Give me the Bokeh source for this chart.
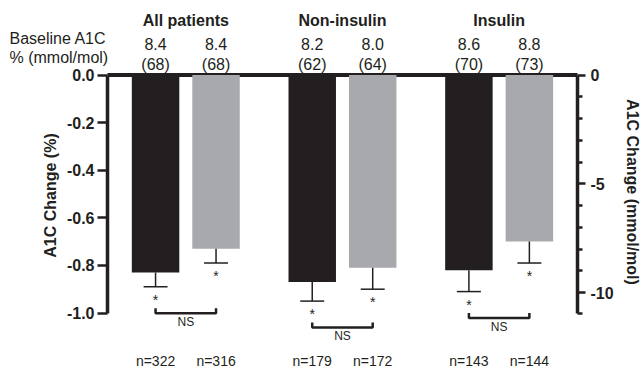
import numpy as np
from bokeh.plotting import figure
from bokeh.models import Range1d, LinearAxis, FixedTicker, PrintfTickFormatter
from bokeh.core.properties import value
from bokeh.embed import file_html
from bokeh.resources import INLINE

# ---------------- data ----------------
groups = ["All patients", "Non-insulin", "Insulin"]
change_a = [-0.83, -0.87, -0.82]      # black bars (A1C change, %)
se_a = [0.06, 0.08, 0.09]
change_b = [-0.73, -0.81, -0.70]      # gray bars (A1C change, %)
se_b = [0.06, 0.09, 0.09]
baseline_pct_a = [8.4, 8.2, 8.6]
baseline_pct_b = [8.4, 8.0, 8.8]
baseline_mmol_a = [68, 62, 70]
baseline_mmol_b = [68, 64, 73]
n_a = [322, 179, 143]
n_b = [316, 172, 144]
left_ticks = [0.0, -0.2, -0.4, -0.6, -0.8, -1.0]
right_major_ticks = [0, -5, -10]
right_minor_ticks = [-1, -2, -3, -4, -6, -7, -8, -9]
MMOL_PER_PCT = 10.93

# ---------------- layout (pixels) ----------------
W, H = 641, 369
AXIS_L_PX, AXIS_R_PX = 107, 577
Y0_PX, PX_PER_PCT = 74.5, 238.0
GROUP0_PX, PX_PER_GROUP = 185.3, 156.67
OFFSET, BAR_W, CAP_W = 0.193, 0.303, 0.153
INK = "#231f20"
GRAY = "#a7a9ac"
FONT = "Liberation Sans"

def px_x(px):
    return (px - GROUP0_PX) / PX_PER_GROUP

def px_y(py):
    return (Y0_PX - py) / PX_PER_PCT

def dpx(d):
    return d / PX_PER_PCT

AXIS_L_X, AXIS_R_X = px_x(AXIS_L_PX), px_x(AXIS_R_PX)
y_end, y_start = px_y(0), px_y(H)

p = figure(width=W, height=H, output_backend="svg", toolbar_location=None,
           x_range=Range1d(px_x(0), px_x(W)), y_range=Range1d(y_start, y_end),
           x_axis_location=None, y_axis_location=None,
           min_border_left=0, min_border_right=0,
           min_border_top=0, min_border_bottom=0)
p.outline_line_color = None
p.grid.visible = False
p.extra_y_ranges = {"mmol": Range1d(y_start * MMOL_PER_PCT, y_end * MMOL_PER_PCT)}

# axes
left = LinearAxis(ticker=FixedTicker(ticks=left_ticks),
                  formatter=PrintfTickFormatter(format="%.1f"),
                  bounds=(min(left_ticks), 0), fixed_location=AXIS_L_X)
right = LinearAxis(y_range_name="mmol",
                   ticker=FixedTicker(ticks=right_major_ticks,
                                      minor_ticks=right_minor_ticks + [-MMOL_PER_PCT]),
                   formatter=PrintfTickFormatter(format="%d"),
                   bounds=(-MMOL_PER_PCT - 0.01, 0), fixed_location=AXIS_R_X)
for ax in (left, right):
    ax.axis_line_width = 3.5
    ax.axis_line_color = INK
    ax.major_tick_line_color = INK
    ax.major_tick_line_width = 2.5
    ax.major_tick_in = 0
    ax.minor_tick_in = 0
    ax.major_label_text_font = FONT
    ax.major_label_text_font_style = "bold"
    ax.major_label_text_font_size = "16px"
    ax.major_label_text_color = INK
left.major_tick_out = 10
left.minor_tick_line_color = None
left.major_label_standoff = 3
right.major_tick_out = 8
right.minor_tick_out = 5
right.minor_tick_line_color = INK
right.minor_tick_line_width = 2.5
right.major_label_standoff = 5
p.add_layout(left, "left")
p.add_layout(right, "right")

# zero line between the two axes
p.segment(x0=[AXIS_L_X], y0=[0], x1=[AXIS_R_X], y1=[0], line_color=INK, line_width=4)

gx = np.arange(len(groups))
xa = gx - OFFSET
xb = gx + OFFSET
a = np.array(change_a)
b = np.array(change_b)
cap_a = a - np.array(se_a)
cap_b = b - np.array(se_b)

p.vbar(x=xa, top=0, bottom=a, width=BAR_W, fill_color=INK, line_color=None)
p.vbar(x=xb, top=0, bottom=b, width=BAR_W, fill_color=GRAY, line_color=None)

def txt(x, y, text, size, bold=False, align="center", angle=0.0):
    p.text(x=x, y=y, text=text, text_align=align, text_baseline="middle",
           text_font=value(FONT), text_font_size=size,
           text_font_style="bold" if bold else "normal", text_color=INK, angle=angle)

for xs, v, c in ((xa, a, cap_a), (xb, b, cap_b)):
    p.segment(x0=xs, y0=v, x1=xs, y1=c, line_color=INK, line_width=1.5)
    p.segment(x0=xs - CAP_W / 2, y0=c, x1=xs + CAP_W / 2, y1=c, line_color=INK, line_width=1.5)
    txt(xs, c - dpx(13), ["*"] * len(xs), "14px")

# NS brackets
yb = np.minimum(cap_a, cap_b) - dpx(26.5)
tick = dpx(5)
p.multi_line(xs=[[x0, x0, x1, x1] for x0, x1 in zip(xa, xb)],
             ys=[[y + tick, y, y, y + tick] for y in yb],
             line_color=INK, line_width=2.5)
txt(gx, yb - dpx(8.5), ["NS"] * len(gx), "12px")

# n labels
both_x = np.concatenate([xa, xb])
txt(both_x, [px_y(360)] * len(both_x), [f"n={n}" for n in n_a + n_b], "14px")

# group titles and baseline values
txt(gx, [px_y(20)] * len(gx), groups, "16px", bold=True)
txt(both_x, [px_y(43.5)] * len(both_x),
    [f"{v:.1f}" for v in baseline_pct_a + baseline_pct_b], "16px")
txt(both_x, [px_y(64)] * len(both_x),
    [f"({v})" for v in baseline_mmol_a + baseline_mmol_b], "16px")

# side texts
txt([px_x(9)], [px_y(37.5)], ["Baseline A1C"], "16px", align="left")
txt([px_x(9)], [px_y(56.5)], ["% (mmol/mol)"], "16px", align="left")
txt([px_x(50)], [px_y(195)], ["A1C Change (%)"], "16px", bold=True, angle=np.pi / 2)
txt([px_x(632)], [px_y(191.5)], ["A1C Change (mmol/mol)"], "16px", bold=True,
    angle=-np.pi / 2)

open("out.html", "w").write(file_html(p, INLINE))
